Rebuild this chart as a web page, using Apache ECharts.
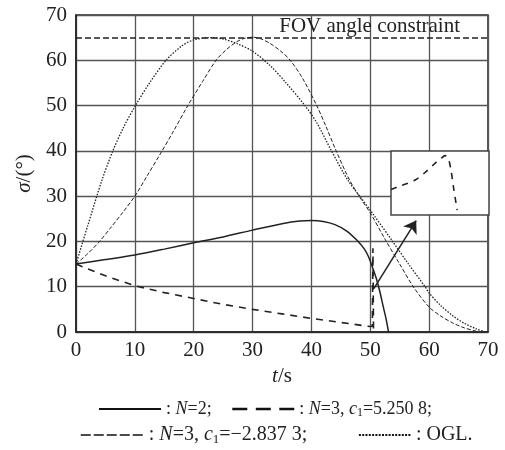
<!DOCTYPE html>
<html>
<head>
<meta charset="utf-8">
<script src="https://cdn.jsdelivr.net/npm/echarts@6/dist/echarts.min.js"></script>
<style>
  html,body{margin:0;padding:0;background:#fff;}
  #main{width:505px;height:450px;}
</style>
</head>
<body>
<div id="main"></div>
<script>
// t in s, sigma in degrees
var tickValues=[0,10,20,30,40,50,60,70];
var fovAngle=65;

// N=2
var seriesN2=[[0,15],[5,16],[10,17],[15,18.3],[20,19.7],[25,21],[30,22.5],[35,23.9],[38,24.5],[40,24.6],[42,24.4],[44,23.7],[46,22.3],[47.7,20.3],[49,18.3],[49.7,16.6],[50.5,13.8],[51.1,11.5],[51.7,8.5],[52.2,5.6],[52.7,2.8],[53.1,0]];
// N=3, c1=5.250 8
var seriesC1pos=[[0,15],[5,12.4],[10,10.2],[15,8.7],[20,7.4],[25,6.1],[30,5],[35,4],[40,3],[45,2.1],[50,1.2],[50.35,1.3],[50.45,18.5],[50.55,0]];
// N=3, c1=-2.837 3
var seriesC1neg=[[0,15],[2,17.3],[4,20],[6,23.2],[8,26.5],[10,30],[12,34.3],[14.4,39.5],[16.5,44.2],[19,50],[21.5,55.3],[23.8,60],[25.5,62.3],[27.2,64],[28.5,64.8],[30,65.1],[31.3,64.8],[33,63.7],[34.8,62],[36.4,60],[38.5,56],[40.9,50],[42.5,45.3],[44.2,40],[46.5,33.5],[48.5,29.2],[50,26.3],[52.5,20.5],[55,15],[57.3,10],[60,5.5],[62,3.5],[64,2],[66,0.9],[68,0.2]];
// OGL
var seriesOGL=[[0,15],[2,23.5],[4.4,33.5],[6.2,39.8],[8,45],[10.1,50],[12.5,55],[15.3,60],[18,63.2],[20,64.5],[22.6,65],[25,64.7],[27.5,63.6],[30,62],[33,58.8],[35.7,55],[38.9,50],[41,46],[43.4,40],[46.2,33.5],[48.5,29.5],[50.5,26],[53.8,20],[56.5,15],[59.3,10],[60,8.6],[62,5.8],[64,3.6],[66,1.9],[68,0.7],[69.5,0]];
// zoomed view near t=50 s
var insetCurve=[[49.6,1.40],[49.694,1.453],[49.846,1.547],[49.948,1.664],[50.049,1.808],[50.11,1.883],[50.151,1.927],[50.184,1.886],[50.212,1.70],[50.242,1.39],[50.275,1.078]];
// arrow from main plot to inset
var arrowFrom=[50.6,9.6];
var arrowTo=[57.8,24.6];

var FONT='Liberation Serif';
var INK='#222';

function richOf(fs){
  return {
    i:{fontStyle:'italic',fontFamily:FONT,fontSize:fs,color:INK},
    s:{fontFamily:FONT,fontSize:Math.round(fs*0.65),color:INK,verticalAlign:'bottom',padding:[Math.round(fs*0.45),0,0,0]},
    n:{fontFamily:FONT,fontSize:fs,color:INK}
  };
}

function legendOf(name,left,top,width,lineStyle,label,fs){
  lineStyle.color='#111';
  return {
    data:[name],
    left:left,top:top,padding:0,
    itemWidth:width,itemHeight:14,
    lineStyle:lineStyle,
    itemStyle:{opacity:0},
    selectedMode:false,
    formatter:function(){return label;},
    textStyle:{fontFamily:FONT,fontSize:fs,color:INK,rich:richOf(fs)}
  };
}

var chart=echarts.init(document.getElementById('main'));

var option={
  animation:false,
  backgroundColor:'#fff',
  grid:[{
    left:76,right:17,top:15,bottom:118,
    show:true,borderColor:INK,borderWidth:1.5
  },{
    left:391,top:151,width:98,height:64,
    show:true,backgroundColor:'#fff',borderColor:'#444',borderWidth:1.5,z:5
  }],
  legend:[
    legendOf('N2',98,400,62,{type:'solid',width:2},'{n|: }{i|N}{n|=2;}',18),
    legendOf('C1pos',231,400,62,{type:[15,8.5],width:2.6},'{n|: }{i|N}{n|=3, }{i|c}{s|1}{n|=5.250 8;}',18),
    legendOf('C1neg',80,425,63,{type:[10,3],width:1.5},'{n|: }{i|N}{n|=3, }{i|c}{s|1}{n|=\u22122.837 3;}',20),
    legendOf('OGL',358,425,52,{type:[2,1.3],width:1.8},'{n|: OGL.}',20)
  ],
  xAxis:[{
    type:'value',min:0,max:70,interval:10,
    name:'{i|t}{n|/s}',nameLocation:'middle',nameGap:22,
    nameTextStyle:{rich:{i:{fontStyle:'italic',fontFamily:FONT,fontSize:21,color:INK},n:{fontFamily:FONT,fontSize:21,color:INK}}},
    axisLine:{lineStyle:{color:INK,width:1.5}},
    axisTick:{show:false},
    axisLabel:{margin:8,fontFamily:FONT,fontSize:21,color:INK},
    splitLine:{show:true,lineStyle:{color:'#555',width:1.3}}
  },{
    gridIndex:1,type:'value',min:49.6,max:50.6,show:false
  }],
  yAxis:[{
    type:'value',min:0,max:70,interval:10,
    name:'{i|\u03c3}{n|/(\u00b0)}',nameLocation:'middle',nameGap:40,
    nameTextStyle:{rich:{i:{fontStyle:'italic',fontFamily:FONT,fontSize:21,color:INK},n:{fontFamily:FONT,fontSize:21,color:INK}}},
    axisLine:{lineStyle:{color:INK,width:1.5}},
    axisTick:{show:false},
    axisLabel:{margin:9,fontFamily:FONT,fontSize:21,color:INK},
    splitLine:{show:true,lineStyle:{color:'#555',width:1.3}}
  },{
    gridIndex:1,type:'value',min:1,max:2,show:false
  }],
  series:[{
    name:'N2',type:'line',data:seriesN2,smooth:0.3,symbol:'none',
    lineStyle:{color:INK,width:1.5,type:'solid'},itemStyle:{color:INK}
  },{
    name:'C1pos',type:'line',data:seriesC1pos,smooth:false,symbol:'none',
    lineStyle:{color:INK,width:1.6,type:[7,6]},itemStyle:{color:INK},
    markLine:{
      silent:true,symbol:['none','arrow'],symbolSize:12,
      label:{show:false},
      lineStyle:{color:INK,width:1.5,type:'solid'},
      data:[[{coord:arrowFrom},{coord:arrowTo}]]
    }
  },{
    name:'C1neg',type:'line',data:seriesC1neg,smooth:0.3,symbol:'none',
    lineStyle:{color:INK,width:1,type:[4,2]},itemStyle:{color:INK}
  },{
    name:'OGL',type:'line',data:seriesOGL,smooth:0.3,symbol:'none',
    lineStyle:{color:INK,width:1.3,type:[1.5,1.5]},itemStyle:{color:INK}
  },{
    name:'FOV',type:'line',data:[],symbol:'none',
    markLine:{
      silent:true,symbol:['none','none'],
      lineStyle:{color:INK,width:1.5,type:[6,3]},
      label:{show:true,position:'insideEndTop',formatter:'FOV angle constraint',
        fontFamily:FONT,fontSize:21,color:INK,distance:[28,1]},
      data:[{yAxis:fovAngle}]
    }
  },{
    name:'inset',type:'line',xAxisIndex:1,yAxisIndex:1,data:insetCurve,smooth:0.3,symbol:'none',z:7,
    lineStyle:{color:INK,width:1.6,type:[6,6]}
  }]
};

chart.setOption(option);
</script>
</body>
</html>
